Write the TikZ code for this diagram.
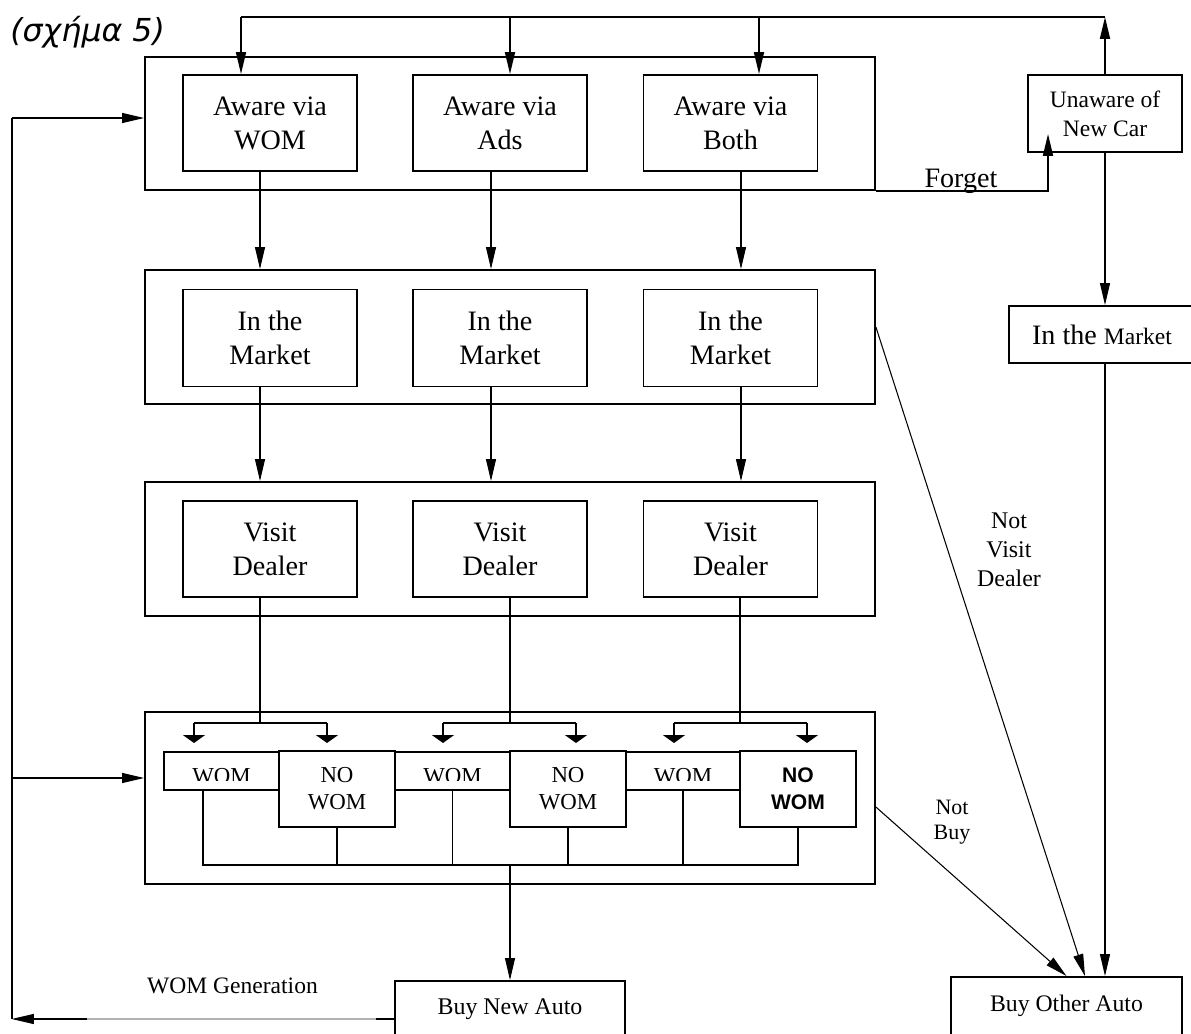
\documentclass[tikz,border=0pt]{standalone}
\usepackage{fontspec}
\setmainfont{Liberation Serif}
\newfontfamily\titlefont{DejaVu Sans}
\newfontfamily\arialfont{Liberation Sans}
\usepackage{tikz}
\usetikzlibrary{arrows.meta, calc}
\tikzset{
  frame/.style   ={draw, line width=1.1pt, inner sep=0pt, minimum width=14.6cm},
  box/.style     ={draw, line width=1.1pt, inner sep=2pt, align=center,
                   font=\fontsize{16}{19.4}\selectfont},
  rowbox/.style  ={box, minimum width=3.48cm, minimum height=1.92cm},
  womshort/.style={draw, line width=1.1pt, inner sep=0pt, minimum width=2.3cm, minimum height=0.76cm},
  womtall/.style ={box, minimum width=2.32cm, minimum height=1.52cm,
                   font=\fontsize{13}{15.3}\selectfont},
  arr/.style     ={-{Triangle[length=0.44cm, width=0.2cm]}, line width=0.6pt},
  thickarr/.style={arr, line width=1pt},
  brarr/.style   ={-{Triangle[length=0.16cm, width=0.44cm]}, line width=1pt},
  lbl/.style     ={align=center, inner sep=0pt, font=\fontsize{13.6}{16.5}\selectfont},
}
\begin{document}
\begin{tikzpicture}[x=0.02cm, y=-0.02cm]
\useasboundingbox (0,0) rectangle (1191,1034);
\node[anchor=base west, inner sep=0pt, font=\titlefont\itshape\fontsize{18}{21}\selectfont] (title) at (10,42) {(σχήμα 5)};

% outer frames
\node[frame, minimum height=2.66cm] (awareF) at (510,123.5) {};
\node[frame, minimum height=2.68cm] (marketF) at (510,337) {};
\node[frame, minimum height=2.68cm] (visitF) at (510,549) {};
\node[frame, minimum height=3.44cm] (womF) at (510,798) {};

% three rows of states
\foreach \n/\x/\t in {W/270/WOM, A/500/Ads, B/730.5/Both} {
  \node[rowbox] (aware\n) at (\x,123) {Aware via\\\t};
  \node[rowbox, minimum height=1.94cm] (market\n) at (\x,338) {In the\\Market};
  \node[rowbox] (visit\n) at (\x,549) {Visit\\Dealer};
}

% right column
\node[box, minimum width=3.08cm, minimum height=1.54cm, font=\fontsize{13.4}{16.5}\selectfont] (unaware) at (1105,113.5) {Unaware of\\New Car};
\node[box, minimum width=3.72cm, minimum height=1.14cm] (marketR) at (1102,334.5) {In the {\fontsize{13.4}{16}\selectfont Market}};
\node[box, minimum width=4.62cm, minimum height=1.16cm, font=\fontsize{13.5}{16}\selectfont] (buyOther) at (1066.5,1006) {Buy Other Auto};
\node[box, minimum width=4.6cm, minimum height=1.12cm, font=\fontsize{13.6}{16}\selectfont] (buyNew) at (510,1009) {Buy New Auto};

% WOM / NO WOM boxes
\foreach \i/\x in {1/221.5, 2/452.5, 3/683} {
  \node[womshort] (womY\i) at (\x,771) {};
  \begin{scope}
    \clip (womY\i.north west) rectangle ([yshift=0.2cm]womY\i.south east);
    \node[anchor=base, inner sep=0pt, font=\fontsize{13}{15.3}\selectfont] (womT\i) at (\x,783) {WOM};
  \end{scope}
}
\node[womtall] (noW1) at (337,789) {NO\\WOM};
\node[womtall] (noW2) at (568,789) {NO\\WOM};
\node[womtall, font=\arialfont\bfseries\fontsize{12}{15.3}\selectfont] (noW3) at (798,789) {NO\\WOM};

% feedback from the top
\coordinate (topR) at (1105,17);
\foreach \n/\s in {W/-0.58, A/0.2, B/0.57} {
  \coordinate (in\n) at ([xshift=\s cm]aware\n.north);
  \draw[thickarr] (in\n |- topR) -- (in\n);
}
\draw[thickarr] (unaware.north) -- (topR);
\draw[line width=1pt] (topR) -- (inW |- topR);

% forget
\coordinate (forgetEnd) at ([xshift=-1.14cm]unaware.south);
\draw[thickarr, shorten >=-0.38cm] (awareF.south east) -| (forgetEnd);
\node[anchor=base, inner sep=0pt, font=\fontsize{16}{19}\selectfont] (forget) at (961,188) {Forget};

% down the rows
\foreach \n/\s in {W/-0.2, A/-0.18, B/0.21} {
  \coordinate (dn\n) at ([xshift=\s cm]aware\n.south);
  \draw[arr] (dn\n) -- (dn\n |- marketF.north);
  \coordinate (dm\n) at ([xshift=\s cm]market\n.south);
  \draw[arr] (dm\n) -- (dm\n |- visitF.north);
}

% dealer visit splits into WOM / NO WOM
\foreach \n/\s/\l/\r in {W/-0.2/194/327, A/0.2/443/576, B/0.19/674/807} {
  \coordinate (dv\n) at ([xshift=\s cm]visit\n.south);
  \coordinate (brL\n) at (\l,723);
  \coordinate (brR\n) at (\r,723);
  \coordinate (tipL\n) at (\l,743);
  \coordinate (tipR\n) at (\r,743);
  \draw[line width=1pt] (dv\n) -- (dv\n |- brL\n);
  \draw[brarr] (brL\n) -- (tipL\n);
  \draw[brarr] (brR\n) -- (tipR\n);
  \draw[line width=1pt] (brL\n) -- (brR\n);
}

% joining line under the WOM boxes
\coordinate (jW1) at ([xshift=-0.37cm]womY1.south);
\coordinate (joinY) at (510,865);
\draw[line width=1pt] (jW1) -- (jW1 |- joinY) -- (noW3.south |- joinY) -- (noW3.south);
\foreach \b in {noW1, womY2, noW2, womY3}
  \draw[line width=1pt] (\b.south) -- (\b.south |- joinY);
\draw[arr] (buyNew.north |- joinY) -- (buyNew.north);

% right column arrows
\draw[arr] (unaware.south) -- (unaware.south |- marketR.north);
\draw[arr] (marketR.south -| unaware) -- (buyOther.north -| unaware);
\coordinate (nvStart) at ([yshift=0.2cm]marketF.east);
\coordinate (nvEnd) at ([xshift=0.37cm]buyOther.north);
\draw[arr] (nvStart) -- (nvEnd);
\coordinate (nbStart) at ([yshift=-0.18cm]womF.east);
\draw[arr] (nbStart) -- (buyOther.north);
\node[lbl] (notVisit) at (1009,549.5) {Not\\Visit\\Dealer};
\node[lbl, font=\fontsize{12.5}{14.2}\selectfont] (notBuy) at (952,822) {Not\\Buy};

% WOM generation loop
\coordinate (fbBot) at (12,1019);
\coordinate (fbTop) at (12,118);
\coordinate (fbMid) at (12,778);
\coordinate (wgR) at (buyNew.west |- fbBot);
\coordinate (wgDark) at ([xshift=-0.36cm]wgR);
\coordinate (wgArr) at ([xshift=1.5cm]fbBot);
\draw[arr, draw=black!30] (wgR) -- (fbBot);
\draw[line width=0.6pt] (wgR) -- (wgDark);
\draw[arr] (wgArr) -- (fbBot);
\draw[line width=1pt] (fbBot) -- (fbTop);
\draw[arr] (fbTop) -- (fbTop -| awareF.west);
\draw[arr] (fbMid) -- (fbMid -| womF.west);
\node[anchor=base, inner sep=0pt, font=\fontsize{13.4}{16}\selectfont] (womGen) at (232.5,993) {WOM Generation};
\end{tikzpicture}
\end{document}
